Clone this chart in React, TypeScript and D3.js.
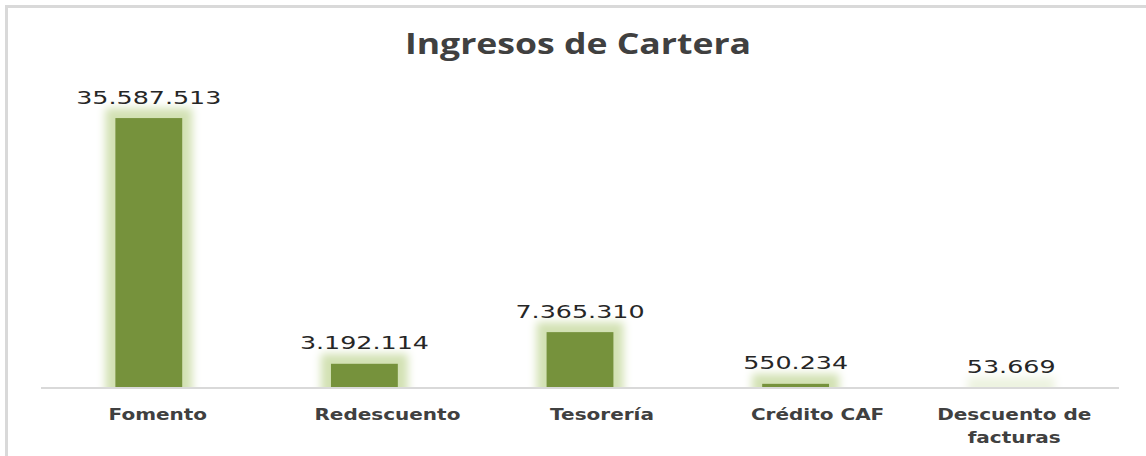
import React from 'react';
import * as d3 from 'd3';

const title = 'Ingresos de Cartera';
const categories = ['Fomento', 'Redescuento', 'Tesorería', 'Crédito CAF', 'Descuento de facturas'];
const categoryLines = [['Fomento'], ['Redescuento'], ['Tesorería'], ['Crédito CAF'], ['Descuento de', 'facturas']];
const values = [35587513, 3192114, 7365310, 550234, 53669];
const yMax = 40000000;

// label horizontal nudges observed in the reference (px)
const labelShift = [9, 23, 22, 22, 3];

const W = 1146;
const H = 456;
const axisY = 388;
const plotTop = 84.6;
const plotLeft = 41;
const plotRight = 1119;

const locale = d3.formatLocale({ decimal: ',', thousands: '.', grouping: [3], currency: ['', ''] });
const fmt = locale.format(',d');

export default function App() {
  const x = d3.scaleBand<string>().domain(categories).range([plotLeft, plotRight]).paddingInner(0.69).paddingOuter(0.345);
  const y = d3.scaleLinear().domain([0, yMax]).range([axisY, plotTop]);

  return (
    <div style={{ position: 'absolute', left: 0, top: 0 }}>
      <svg width={W} height={H} style={{ display: 'block', background: '#fff' }}>
        <defs>
          <filter id="glow" filterUnits="userSpaceOnUse" x={0} y={0} width={W} height={H} colorInterpolationFilters="sRGB">
            <feMorphology in="SourceAlpha" operator="dilate" radius={10} result="dil" />
            <feGaussianBlur in="dil" stdDeviation={4.5} result="blur" />
            <feFlood floodColor="#d2e1b3" floodOpacity={1} result="col" />
            <feComposite in="col" in2="blur" operator="in" result="glowc" />
            <feMerge>
              <feMergeNode in="glowc" />
              <feMergeNode in="SourceGraphic" />
            </feMerge>
          </filter>
          <clipPath id="plotClip">
            <rect x={0} y={0} width={W} height={axisY} />
          </clipPath>
        </defs>
        <rect x={6.5} y={6.5} width={W + 20} height={H + 20} fill="#fff" stroke="#d9d9d9" strokeWidth={3} />
        <text
          transform={`translate(578,53.5) scale(1.27,1)`}
          textAnchor="middle"
          fontFamily="'Open Sans', sans-serif"
          fontWeight={700}
          fontSize={28}
          fill="#404040"
        >
          {title}
        </text>
        <g clipPath="url(#plotClip)">
          {categories.map((c, i) => {
            const yTop = y(values[i]);
            return (
              <rect
                key={c}
                x={x(c)!}
                y={yTop}
                width={x.bandwidth()}
                height={Math.max(0.5, axisY - yTop)}
                fill="#76923c"
                filter="url(#glow)"
              />
            );
          })}
        </g>
        <line x1={plotLeft} x2={plotRight} y1={axisY} y2={axisY} stroke="#d9d9d9" strokeWidth={2} />
        {categories.map((c, i) => {
          const cx = x(c)! + x.bandwidth() / 2;
          return (
            <text
              key={'v' + c}
              transform={`translate(${cx},${y(values[i]) - 14.5}) scale(1.45,1)`}
              textAnchor="middle"
              fontFamily="'DejaVu Sans', sans-serif"
              fontSize={17.5}
              fill="#262626"
            >
              {fmt(values[i])}
            </text>
          );
        })}
        {categories.map((c, i) => {
          const cx = x(c)! + x.bandwidth() / 2 + labelShift[i];
          return (
            <g key={'c' + c}>
              {categoryLines[i].map((ln, j) => (
                <text
                  key={ln}
                  transform={`translate(${cx},${419.5 + j * 23}) scale(1.25,1)`}
                  textAnchor="middle"
                  fontFamily="'DejaVu Sans', sans-serif"
                  fontWeight={700}
                  fontSize={16}
                  fill="#404040"
                >
                  {ln}
                </text>
              ))}
            </g>
          );
        })}
      </svg>
    </div>
  );
}
